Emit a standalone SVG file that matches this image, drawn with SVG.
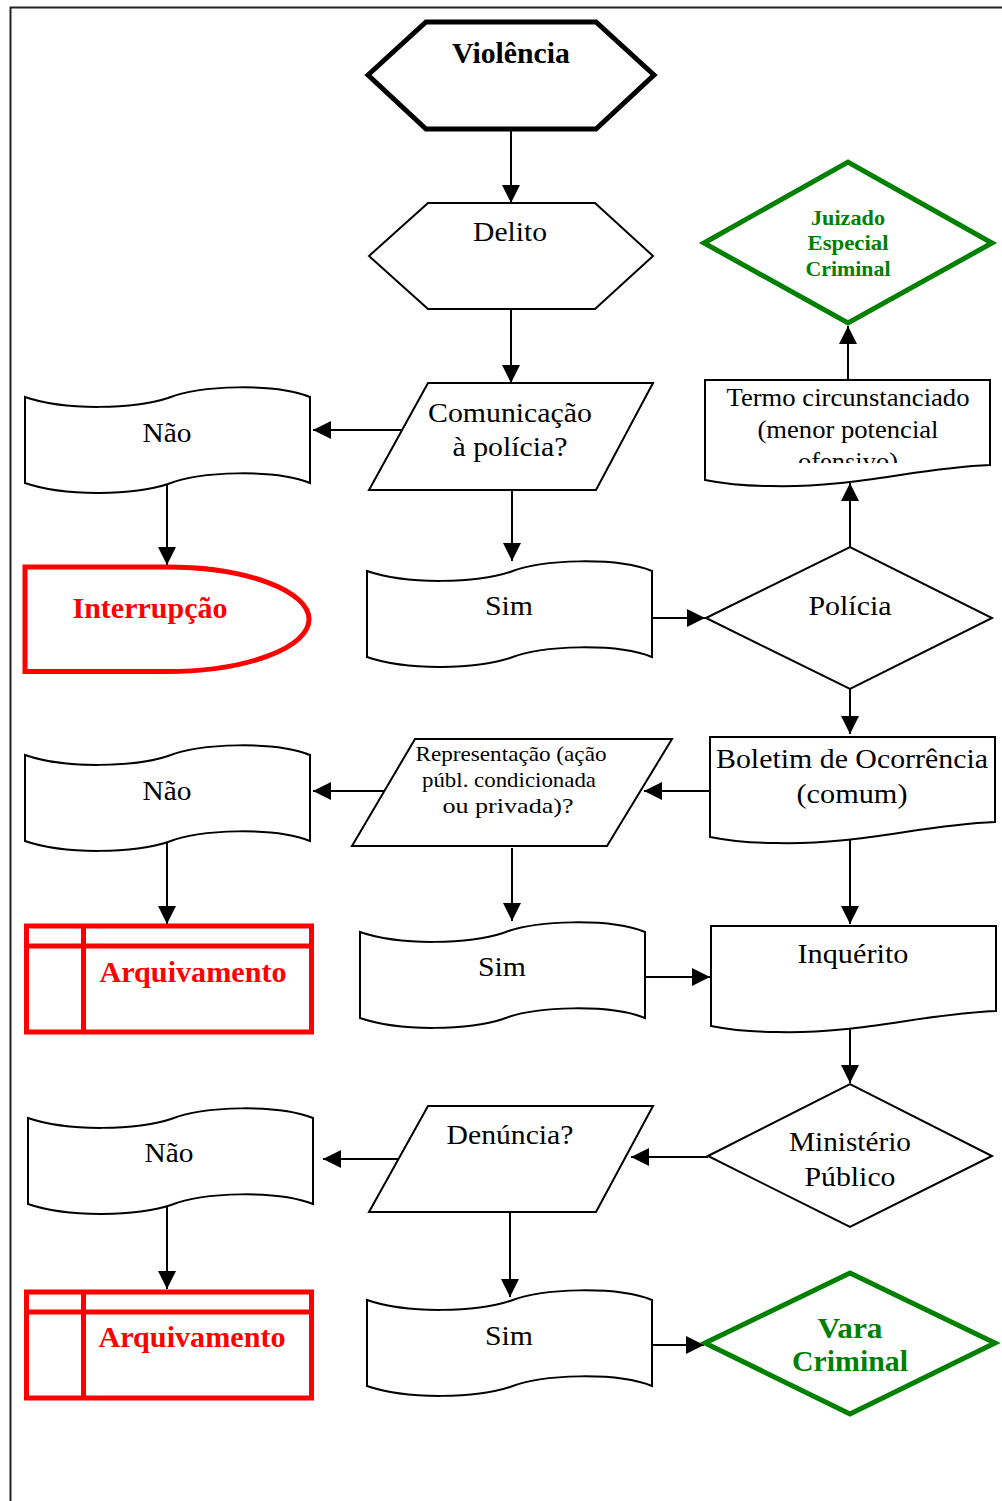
<svg xmlns="http://www.w3.org/2000/svg" xmlns:xlink="http://www.w3.org/1999/xlink" width="1002" height="1501" viewBox="0 0 1002 1501">
  <style>
    text { font-family: "Liberation Serif", "Times New Roman", serif; text-anchor: middle; fill: #000; }
    .lbl { font-size: 28px; }
    .sm { font-size: 22px; }
    .shape { fill: #fff; stroke: #000; stroke-width: 2; stroke-linejoin: miter; }
    .thick { fill: #fff; stroke: #000; stroke-width: 5; }
    .red { fill: #fff; stroke: #ff0000; stroke-width: 5; }
    .redline { stroke: #ff0000; stroke-width: 5; fill: none; }
    .green { fill: #fff; stroke: #008000; stroke-width: 5; }
    .redtxt { fill: #ff0000; font-weight: bold; font-size: 29px; }
    .greentxt { fill: #008000; font-weight: bold; }
    .conn line { stroke: #000; stroke-width: 2; marker-end: url(#arrow); }
  </style>
  <defs>
    <marker id="arrow" markerUnits="userSpaceOnUse" markerWidth="18" markerHeight="18" refX="18" refY="9" orient="auto">
      <path d="M0,0 L18,9 L0,18 Z" fill="#000"/>
    </marker>
    <!-- punched tape outline, 285 x 86 -->
    <path id="tape" d="M0,0 C40,14 110,12 143,1 C175,-12 250,-14 285,0 V86 C250,72 175,74 143,87 C110,98 40,100 0,86 Z"/>
    <!-- document outline, 285 wide -->
    <path id="doc" d="M0,0 H285 V85 C210,88 150,108 66,106 C40,106 15,103 0,100 Z"/>
    <clipPath id="termoClip">
      <rect x="706" y="381" width="283" height="82"/>
    </clipPath>
  </defs>

  <rect width="1002" height="1501" fill="#fff"/>

  <!-- page frame -->
  <g id="frame">
    <path d="M10.5,1501 V7.5 H1002" fill="none" stroke="#222" stroke-width="2"/>
  </g>

  <!-- connectors -->
  <g id="connectors" class="conn">
    <line x1="511" y1="129" x2="511" y2="203"/>
    <line x1="511" y1="309" x2="511" y2="383"/>
    <line x1="401" y1="430" x2="313" y2="430"/>
    <line x1="167" y1="484" x2="167" y2="565"/>
    <line x1="512" y1="490" x2="512" y2="561"/>
    <line x1="652" y1="618" x2="705" y2="618"/>
    <line x1="850" y1="547" x2="850" y2="483"/>
    <line x1="848" y1="380" x2="848" y2="326"/>
    <line x1="850" y1="689" x2="850" y2="734"/>
    <line x1="710" y1="791" x2="644" y2="791"/>
    <line x1="384" y1="791" x2="313" y2="791"/>
    <line x1="167" y1="842" x2="167" y2="924"/>
    <line x1="512" y1="848" x2="512" y2="921"/>
    <line x1="645" y1="977" x2="710" y2="977"/>
    <line x1="850" y1="836" x2="850" y2="924"/>
    <line x1="850" y1="1027" x2="850" y2="1083"/>
    <line x1="708" y1="1157" x2="631" y2="1157"/>
    <line x1="398" y1="1159" x2="323" y2="1159"/>
    <line x1="167" y1="1205" x2="167" y2="1289"/>
    <line x1="510" y1="1212" x2="510" y2="1297"/>
    <line x1="652" y1="1345" x2="704" y2="1345"/>
  </g>

  <!-- column 1: start -->
  <g id="violencia">
    <polygon class="thick" points="368,75 426,22 596,22 654,75 596,129 426,129"/>
    <text x="511" y="63" style="font-size:29px;font-weight:bold" textLength="118" lengthAdjust="spacingAndGlyphs">Violência</text>
  </g>

  <g id="delito">
    <polygon class="shape" points="369,256 428,203 595,203 653,256 595,309 428,309"/>
    <text class="lbl" x="510" y="241" textLength="74" lengthAdjust="spacingAndGlyphs">Delito</text>
  </g>

  <g id="comunicacao">
    <polygon class="shape" points="428,383 653,383 596,490 369,490"/>
    <text class="lbl" x="510" y="422" textLength="164" lengthAdjust="spacingAndGlyphs">Comunicação</text>
    <text class="lbl" x="510" y="456" textLength="115" lengthAdjust="spacingAndGlyphs">à polícia?</text>
  </g>

  <g id="nao1">
    <use xlink:href="#tape" href="#tape" class="shape" x="25" y="397"/>
    <text class="lbl" x="167" y="442" textLength="49" lengthAdjust="spacingAndGlyphs">Não</text>
  </g>

  <g id="interrupcao">
    <path class="red" d="M25,567 H167 A142,52.25 0 0 1 167,671.5 H25 Z"/>
    <text class="redtxt" x="150" y="618" textLength="155" lengthAdjust="spacingAndGlyphs">Interrupção</text>
  </g>

  <g id="sim1">
    <use xlink:href="#tape" href="#tape" class="shape" x="367" y="571"/>
    <text class="lbl" x="509" y="615" textLength="48" lengthAdjust="spacingAndGlyphs">Sim</text>
  </g>

  <!-- right column -->
  <g id="juizado">
    <polygon class="green" points="704,243 848,162 992,243 848,323"/>
    <text class="greentxt" x="848" y="225" style="font-size:21px" textLength="74" lengthAdjust="spacingAndGlyphs">Juizado</text>
    <text class="greentxt" x="848" y="250" style="font-size:21px" textLength="81" lengthAdjust="spacingAndGlyphs">Especial</text>
    <text class="greentxt" x="848" y="276" style="font-size:21px" textLength="85" lengthAdjust="spacingAndGlyphs">Criminal</text>
  </g>

  <g id="termo">
    <use xlink:href="#doc" href="#doc" class="shape" x="705" y="380"/>
    <g clip-path="url(#termoClip)">
      <text x="848" y="406" style="font-size:25px" textLength="243" lengthAdjust="spacingAndGlyphs">Termo circunstanciado</text>
      <text x="848" y="438" style="font-size:25px" textLength="181" lengthAdjust="spacingAndGlyphs">(menor potencial</text>
      <text x="848" y="470" style="font-size:25px" textLength="100" lengthAdjust="spacingAndGlyphs">ofensivo)</text>
    </g>
  </g>

  <g id="policia">
    <polygon class="shape" points="706,618 850,547 992,618 850,689"/>
    <text class="lbl" x="850" y="615" textLength="83" lengthAdjust="spacingAndGlyphs">Polícia</text>
  </g>

  <g id="boletim">
    <use xlink:href="#doc" href="#doc" class="shape" x="710" y="737"/>
    <text class="lbl" x="852" y="768" textLength="272" lengthAdjust="spacingAndGlyphs">Boletim de Ocorrência</text>
    <text class="lbl" x="852" y="803" textLength="111" lengthAdjust="spacingAndGlyphs">(comum)</text>
  </g>

  <!-- second row -->
  <g id="representacao">
    <polygon class="shape" points="415,739 672,739 607,846 352,846"/>
    <text class="sm" x="511" y="761" textLength="191" lengthAdjust="spacingAndGlyphs">Representação (ação</text>
    <text class="sm" x="509" y="787" textLength="174" lengthAdjust="spacingAndGlyphs">públ. condicionada</text>
    <text class="sm" x="508" y="813" textLength="131" lengthAdjust="spacingAndGlyphs">ou privada)?</text>
  </g>

  <g id="nao2">
    <use xlink:href="#tape" href="#tape" class="shape" x="25" y="755"/>
    <text class="lbl" x="167" y="800" textLength="49" lengthAdjust="spacingAndGlyphs">Não</text>
  </g>

  <g id="arquivamento1">
    <rect class="red" x="26.5" y="926" width="285" height="106"/>
    <path class="redline" d="M26.5,946 H311.5 M83.5,926 V1032"/>
    <text class="redtxt" x="193" y="982" textLength="187" lengthAdjust="spacingAndGlyphs">Arquivamento</text>
  </g>

  <g id="sim2">
    <use xlink:href="#tape" href="#tape" class="shape" x="360" y="932"/>
    <text class="lbl" x="502" y="976" textLength="48" lengthAdjust="spacingAndGlyphs">Sim</text>
  </g>

  <g id="inquerito">
    <use xlink:href="#doc" href="#doc" class="shape" x="711" y="926"/>
    <text class="lbl" x="853" y="963" textLength="111" lengthAdjust="spacingAndGlyphs">Inquérito</text>
  </g>

  <!-- third row -->
  <g id="ministerio">
    <polygon class="shape" points="708,1156 850,1084 992,1156 850,1227"/>
    <text class="lbl" x="850" y="1151" textLength="122" lengthAdjust="spacingAndGlyphs">Ministério</text>
    <text class="lbl" x="850" y="1186" textLength="91" lengthAdjust="spacingAndGlyphs">Público</text>
  </g>

  <g id="denuncia">
    <polygon class="shape" points="428,1106 653,1106 596,1212 369,1212"/>
    <text class="lbl" x="510" y="1144" textLength="127" lengthAdjust="spacingAndGlyphs">Denúncia?</text>
  </g>

  <g id="nao3">
    <use xlink:href="#tape" href="#tape" class="shape" x="28" y="1118"/>
    <text class="lbl" x="169" y="1162" textLength="49" lengthAdjust="spacingAndGlyphs">Não</text>
  </g>

  <g id="arquivamento2">
    <rect class="red" x="26.5" y="1292" width="285" height="106"/>
    <path class="redline" d="M26.5,1312 H311.5 M83.5,1292 V1398"/>
    <text class="redtxt" x="192" y="1347" textLength="187" lengthAdjust="spacingAndGlyphs">Arquivamento</text>
  </g>

  <g id="sim3">
    <use xlink:href="#tape" href="#tape" class="shape" x="367" y="1300"/>
    <text class="lbl" x="509" y="1345" textLength="48" lengthAdjust="spacingAndGlyphs">Sim</text>
  </g>

  <g id="vara">
    <polygon class="green" points="705,1343 850,1273 995,1343 850,1414"/>
    <text class="greentxt" x="850" y="1338" style="font-size:30px" textLength="65" lengthAdjust="spacingAndGlyphs">Vara</text>
    <text class="greentxt" x="850" y="1371" style="font-size:30px" textLength="116" lengthAdjust="spacingAndGlyphs">Criminal</text>
  </g>
</svg>
